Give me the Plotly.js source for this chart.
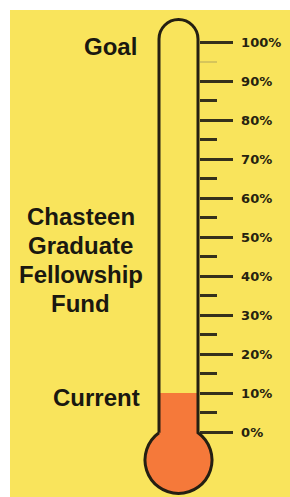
<!DOCTYPE html>
<html><head><meta charset="utf-8">
<script src="https://cdn.plot.ly/plotly-3.0.1.min.js"></script>
<style>html,body{margin:0;padding:0;background:#fff;}#chart{width:290px;height:497px;}</style>
</head><body><div id="chart"></div>
<script>
// ---- data ----
const goalValue = 100;
const currentValue = 10;
const tickValues = [0, 10, 20, 30, 40, 50, 60, 70, 80, 90, 100];
const tickLabels = ['0%', '10%', '20%', '30%', '40%', '50%', '60%', '70%', '80%', '90%', '100%'];
const minorTickValues = [5, 15, 25, 35, 45, 55, 65, 75, 85];
const faintTickValues = [95];
const goalLabel = 'Goal';
const currentLabel = 'Current';
const fundLines = ['Chasteen', 'Graduate', 'Fellowship', 'Fund'];

// ---- layout geometry (pixels) ----
const W = 290, H = 497;
const zeroPx = 432, fullPx = 42;
const pxPerUnit = (zeroPx - fullPx) / goalValue;
const yRange = [-(H - zeroPx) / pxPerUnit, zeroPx / pxPerUnit];
const cx = 178.5, halfW = 19.5, topCy = 39, bulbCy = 460, bulbR = 33.5;
const xl = cx - halfW, xr = cx + halfW;
const yj = bulbCy - Math.sqrt(bulbR * bulbR - halfW * halfW);
const fundTopPx = 216.7, fundStepPx = 28.9;

const X = p => p / W;
const Y = p => 1 - p / H;
function arcPath(ccx, ccy, r, a0, a1, n) {
  let s = '';
  const step = (a1 - a0) / n;
  for (let i = 0; i < n; i++) {
    const t0 = (a0 + i * step) * Math.PI / 180, t1 = (a0 + (i + 1) * step) * Math.PI / 180;
    const k = 4 / 3 * Math.tan((t1 - t0) / 4);
    const p0 = [ccx + r * Math.cos(t0), ccy + r * Math.sin(t0)];
    const p3 = [ccx + r * Math.cos(t1), ccy + r * Math.sin(t1)];
    const p1 = [p0[0] - k * r * Math.sin(t0), p0[1] + k * r * Math.cos(t0)];
    const p2 = [p3[0] + k * r * Math.sin(t1), p3[1] - k * r * Math.cos(t1)];
    s += ` C ${X(p1[0])},${Y(p1[1])} ${X(p2[0])},${Y(p2[1])} ${X(p3[0])},${Y(p3[1])}`;
  }
  return s;
}
const aJ = Math.atan2(-(bulbCy - yj), halfW) * 180 / Math.PI; // right junction angle
const outline = `M ${X(xl)},${Y(yj)} L ${X(xl)},${Y(topCy)}` +
  arcPath(cx, topCy, halfW, 180, 360, 2) +
  ` L ${X(xr)},${Y(yj)}` +
  arcPath(cx, bulbCy, bulbR, aJ, 180 - aJ, 4);

const YELLOW = '#F9E45C', ORANGE = '#F5793A', DARK = '#241f12', TICK = '#35301c';
const labelFont = {family: 'Liberation Sans, Arial, sans-serif', size: 24, color: '#1a1810', weight: 'bold'};

const traces = [
  {type: 'bar', x: [cx], y: [currentValue], width: 2 * halfW, marker: {color: ORANGE, line: {width: 0}},
   hoverinfo: 'skip', showlegend: false},
  {type: 'scatter', mode: 'markers', x: [], y: [], yaxis: 'y2', showlegend: false, hoverinfo: 'skip'}
];

const axisCommon = {
  range: yRange, anchor: 'free', position: 198.5 / W, side: 'right',
  showgrid: false, zeroline: false, showline: false, fixedrange: true
};

const fundAnnotations = fundLines.map((t, i) => ({
  text: t, xref: 'x', yref: 'paper', x: 80.5, y: Y(fundTopPx + i * fundStepPx),
  showarrow: false, xanchor: 'center', yanchor: 'middle', font: labelFont
}));

const layout = {
  width: W, height: H,
  margin: {l: 0, r: 0, t: 0, b: 0, pad: 0},
  paper_bgcolor: '#ffffff', plot_bgcolor: 'rgba(0,0,0,0)',
  showlegend: false,
  xaxis: {range: [0, W], visible: false, fixedrange: true, domain: [0, 1]},
  yaxis: Object.assign({}, axisCommon, {
    tickmode: 'array', tickvals: tickValues, ticktext: tickLabels,
    ticks: 'outside', ticklen: 33, tickwidth: 3, tickcolor: TICK,
    ticklabelstandoff: 6,
    tickfont: {family: 'DejaVu Sans, sans-serif', size: 13, color: '#26220f', weight: 'bold'},
    minor: {tickmode: 'array', tickvals: minorTickValues, ticks: 'outside', ticklen: 17, tickwidth: 3, tickcolor: TICK, showgrid: false}
  }),
  yaxis2: Object.assign({}, axisCommon, {
    overlaying: 'y', tickmode: 'array', tickvals: faintTickValues, showticklabels: false,
    ticks: 'outside', ticklen: 17, tickwidth: 2, tickcolor: 'rgba(150,140,90,0.35)'
  }),
  shapes: [
    {type: 'rect', xref: 'paper', yref: 'paper', x0: X(10), x1: 1, y0: 0, y1: Y(10),
     fillcolor: YELLOW, line: {width: 0}, layer: 'below'},
    {type: 'circle', xref: 'paper', yref: 'paper', x0: X(cx - bulbR), x1: X(cx + bulbR),
     y0: Y(bulbCy + bulbR), y1: Y(bulbCy - bulbR), fillcolor: ORANGE, line: {width: 0}, layer: 'below'},
    {type: 'path', xref: 'paper', yref: 'paper', path: outline, fillcolor: 'rgba(0,0,0,0)',
     line: {color: DARK, width: 3}, layer: 'above'}
  ],
  annotations: [
    {text: goalLabel, xref: 'x', yref: 'y', x: 110.5, y: goalValue, yshift: -4.5,
     showarrow: false, xanchor: 'center', yanchor: 'middle', font: labelFont},
    {text: currentLabel, xref: 'x', yref: 'y', x: 96.7, y: currentValue, yshift: -4,
     showarrow: false, xanchor: 'center', yanchor: 'middle', font: labelFont}
  ].concat(fundAnnotations)
};

Plotly.newPlot('chart', traces, layout, {staticPlot: true, displayModeBar: false});
</script>
</body></html>
